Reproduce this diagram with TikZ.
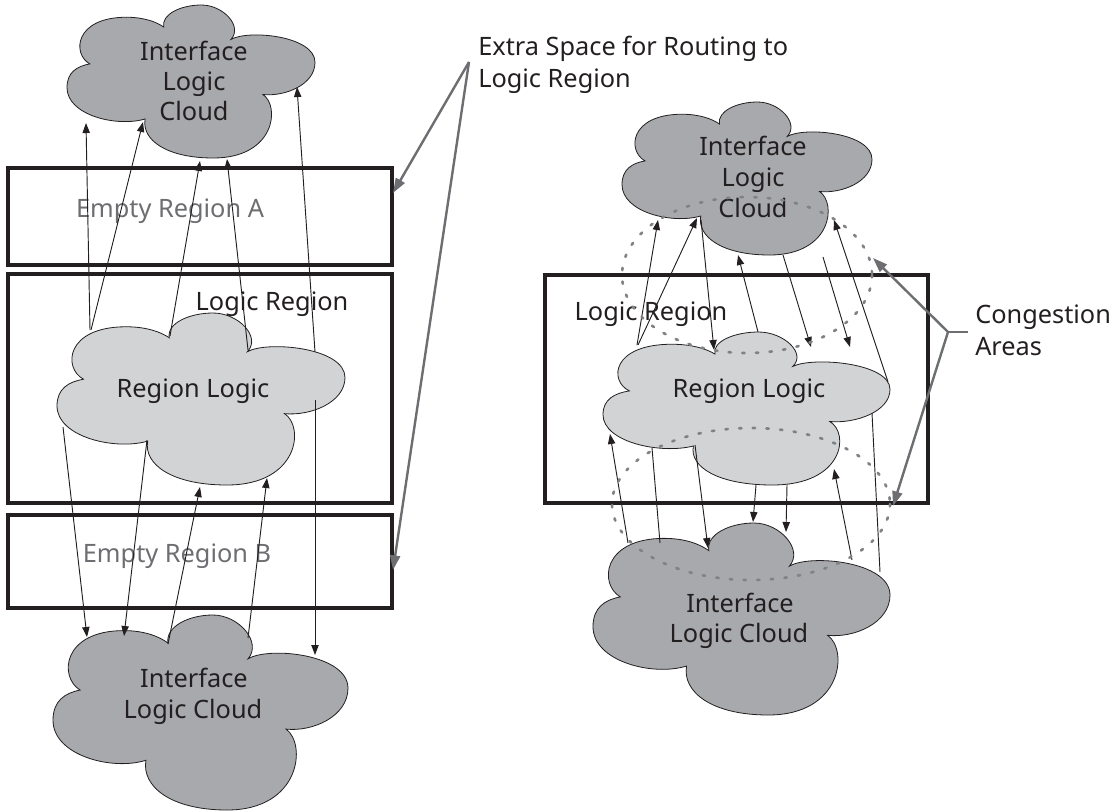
\documentclass[tikz,border=0pt]{standalone}
\usepackage{fontspec}
\setmainfont{Noto Sans}
\usetikzlibrary{arrows.meta}

\definecolor{ink}{RGB}{35,31,32}
\definecolor{clouddark}{RGB}{167,169,172}
\definecolor{cloudlight}{RGB}{209,211,212}
\definecolor{mutedtext}{RGB}{109,110,113}
\definecolor{leadergray}{RGB}{109,110,113}
\definecolor{dotgray}{RGB}{128,130,133}

\tikzset{
  % unit cloud with six lobes, drawn in a 1 x 1 box (y grows downwards)
  cloudpath/.style={insert path={
    (0.39,0.144) .. controls (0.38,0.06) and (0.46,0) .. (0.542,0)
    .. controls (0.63,0) and (0.71,0.14) .. (0.661,0.225)
    .. controls (0.73,0.16) and (1,0.2) .. (1,0.375)
    .. controls (1,0.52) and (0.88,0.6) .. (0.79,0.585)
    .. controls (0.86,0.66) and (0.84,1) .. (0.59,1)
    .. controls (0.40,1) and (0.30,0.88) .. (0.315,0.745)
    .. controls (0.2,0.80) and (0,0.72) .. (0,0.54)
    .. controls (0,0.44) and (0.04,0.40) .. (0.092,0.385)
    .. controls (0.02,0.32) and (0.03,0.08) .. (0.24,0.08)
    .. controls (0.31,0.08) and (0.36,0.11) .. (0.39,0.144)
    -- cycle}},
  cloudedge/.style={draw=ink, line width=0.6pt},
  regionbox/.style={draw=ink, line width=2.4pt},
  lbl/.style={font=\fontsize{19}{23}\selectfont, text=ink, inner sep=0pt, anchor=base},
  lblleft/.style={lbl, anchor=base west},
  mutedlbl/.style={lbl, text=mutedtext},
  conn/.style={draw=ink, line width=0.7pt, -{Triangle[length=7.5pt,width=5.5pt]}},
  plainconn/.style={draw=ink, line width=0.7pt},
  leader/.style={draw=leadergray, line width=1.8pt, -{Triangle[length=11pt,width=7.5pt]}},
  leaderstub/.style={draw=leadergray, line width=1.8pt},
  congest/.style={draw=dotgray, line width=2pt, line cap=round, dash pattern=on 1.75pt off 8.5pt}
}

% cloud: left, top, width, height, fill colour
\newcommand\drawcloud[5]{%
  \begin{scope}[shift={(#1,#2)}, xscale=#3, yscale=#4]
    \filldraw[cloudedge, fill=#5, cloudpath];
  \end{scope}}

\begin{document}
\begin{tikzpicture}[x=0.75pt, y=-0.75pt]
\useasboundingbox (0,0) rectangle (1120,811);

% ---------------- left: routing with empty regions ----------------
\draw[regionbox] (8,168) rectangle (392,265);
\draw[regionbox] (8,274) rectangle (392,503);
\draw[regionbox] (8,515) rectangle (392,608);

\drawcloud{67}{5}{248}{153}{clouddark}
\drawcloud{57}{313}{288}{172}{cloudlight}
\drawcloud{53}{615}{295}{195}{clouddark}

\node[lbl] (lt1) at (194,60) {Interface};
\node[lbl] (lt2) at (194,90) {Logic};
\node[lbl] (lt3) at (194,120) {Cloud};
\node[mutedlbl] (ea) at (170,217) {Empty Region A};
\node[lbl] (lrl) at (272,310) {Logic Region};
\node[lbl] (lrc) at (193,397) {Region Logic};
\node[mutedlbl] (eb) at (177,562) {Empty Region B};
\node[lbl] (lb1) at (194,687) {Interface};
\node[lbl] (lb2) at (193,718) {Logic Cloud};

% connection end points
\coordinate (la1s) at (90,330);   \coordinate (la1e) at (86,123);
\coordinate (la2s) at (91,330);   \coordinate (la2e) at (143,122);
\coordinate (la3s) at (170,336);  \coordinate (la3e) at (200,161);
\coordinate (la4s) at (248,350);  \coordinate (la4e) at (227,159);
\coordinate (la5s) at (315,352);  \coordinate (la5e) at (297,87);
\coordinate (la6s) at (315,400);  \coordinate (la6e) at (315,655);
\coordinate (la7s) at (63,427);   \coordinate (la7e) at (87,637);
\coordinate (la8s) at (147,440);  \coordinate (la8e) at (124,636);
\coordinate (la9s) at (168,644);  \coordinate (la9e) at (200,487);
\coordinate (la10s) at (248,638); \coordinate (la10e) at (267,478);

\foreach \i in {1,...,10} \draw[conn] (la\i s) -- (la\i e);

% ---------------- right: routing congestion ----------------
\draw[regionbox] (545,275) rectangle (928,503);

\drawcloud{622}{102}{250}{153}{clouddark}
\drawcloud{603}{332}{287}{153}{cloudlight}
\drawcloud{593}{523}{297}{192}{clouddark}

\node[lbl] (rt1) at (753,155) {Interface};
\node[lbl] (rt2) at (753,186) {Logic};
\node[lbl] (rt3) at (753,217) {Cloud};
\node[lbl] (rrl) at (651,320) {Logic Region};
\node[lbl] (rrc) at (749,397) {Region Logic};
\node[lbl] (rb1) at (740,612) {Interface};
\node[lbl] (rb2) at (739,642) {Logic Cloud};

\coordinate (ras) at (637,345);  \coordinate (rae) at (658,220);
\coordinate (rbs) at (638,345);  \coordinate (rbe) at (697,218);
\coordinate (rcs) at (701,220);  \coordinate (rce) at (714,350);
\coordinate (rds) at (758,332);  \coordinate (rde) at (738,255);
\coordinate (res) at (783,255);  \coordinate (ree) at (811,347);
\coordinate (rfs) at (823,257);  \coordinate (rfe) at (850,347);
\coordinate (rgs) at (888,382);  \coordinate (rge) at (834,220);
\coordinate (rhs) at (628,543);  \coordinate (rhe) at (610,434);
\coordinate (ris) at (652,448);  \coordinate (rie) at (660,543);
\coordinate (rjs) at (695,445);  \coordinate (rje) at (708,548);
\coordinate (rks) at (756,485);  \coordinate (rke) at (753,522);
\coordinate (rls) at (787,485);  \coordinate (rle) at (786,532);
\coordinate (rms) at (852,560);  \coordinate (rme) at (834,469);
\coordinate (rns) at (872,413);  \coordinate (rne) at (880,572);

\foreach \k in {a,b,c,d,e,f,g,h,j,k,l,m} \draw[conn] (r\k s) -- (r\k e);
\draw[plainconn] (ris) -- (rie);
\draw[plainconn] (rns) -- (rne);

% congestion areas
\draw[congest] (747,275) ellipse [x radius=125, y radius=78];
\draw[congest] (751,504) ellipse [x radius=139, y radius=76];

% ---------------- callouts ----------------
\node[lblleft] (extra1) at (478,55) {Extra Space for Routing to};
\node[lblleft] (extra2) at (478,87) {Logic Region};
\coordinate (xapex) at (469,62);
\coordinate (xtipa) at (393,193);
\coordinate (xtipb) at (393,570);
\draw[leader] (xapex) -- (xtipa);
\draw[leader] (xapex) -- (xtipb);

\node[lblleft] (cong1) at (975,323) {Congestion};
\node[lblleft] (cong2) at (975,355) {Areas};
\coordinate (capex) at (948,332);
\coordinate (cstub) at (968,332);
\coordinate (ctipa) at (873,258);
\coordinate (ctipb) at (893,506);
\draw[leaderstub] (cstub) -- (capex);
\draw[leader] (capex) -- (ctipa);
\draw[leader] (capex) -- (ctipb);

\end{tikzpicture}
\end{document}
